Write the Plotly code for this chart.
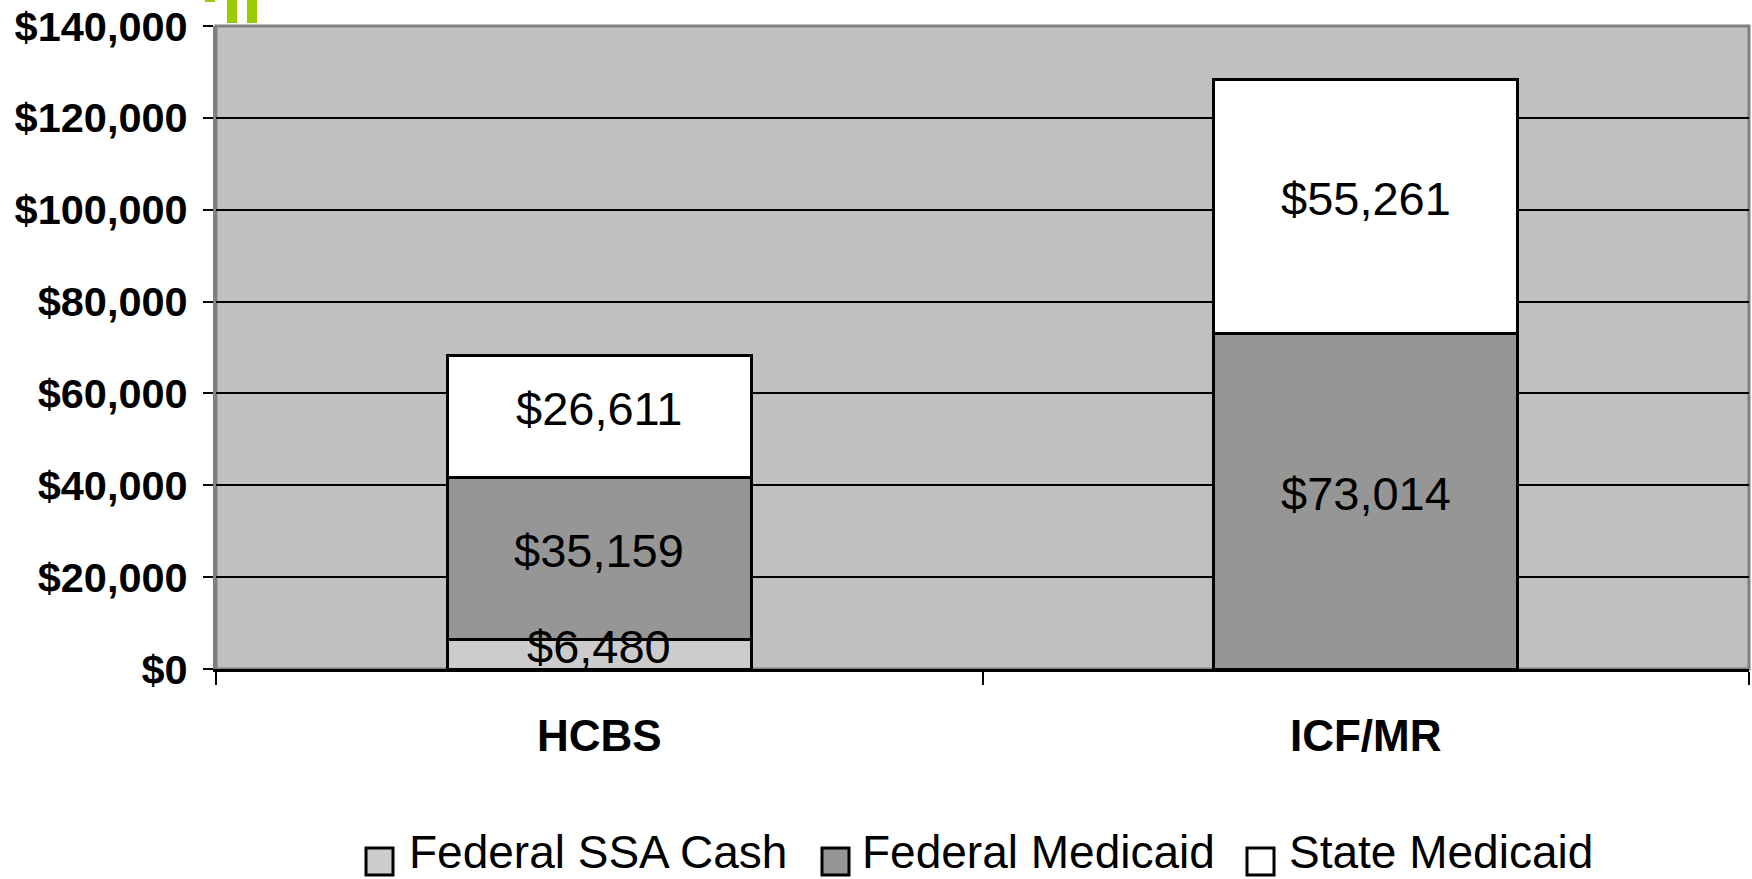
import plotly.graph_objects as go

# Annual cost per person, by funding source
categories = ["HCBS", "ICF/MR"]
federal_ssa_cash = [6480, 0]
federal_medicaid = [35159, 73014]
state_medicaid = [26611, 55261]

series_names = ["Federal SSA Cash", "Federal Medicaid", "State Medicaid"]
series_values = [federal_ssa_cash, federal_medicaid, state_medicaid]
series_colors = ["#CCCCCC", "#969696", "#FFFFFF"]

y_tick_values = [0, 20000, 40000, 60000, 80000, 100000, 120000, 140000]
y_tick_labels = ["$0", "$20,000", "$40,000", "$60,000", "$80,000",
                 "$100,000", "$120,000", "$140,000"]

W, H = 1752, 879
ML, MR, MT, MB = 216, 3, 26, 210
PW, PH = W - ML - MR, H - MT - MB

FONT = "Liberation Sans, Arial, sans-serif"


def px_x(p):
    return (p - ML) / PW


def px_y(p):
    return (H - MB - p) / PH


fig = go.Figure()
shapes = []
annotations = []

# Stacked bars; each segment's value label sits at the middle of its segment
base = [0] * len(categories)
for name, vals, color in zip(series_names, series_values, series_colors):
    fig.add_trace(go.Bar(
        name=name,
        x=categories,
        y=vals,
        marker=dict(color=color, line=dict(color="#000000", width=3)),
        showlegend=False,
    ))
    for i, (cat, v) in enumerate(zip(categories, vals)):
        if v:
            annotations.append(dict(
                x=cat, y=base[i] + v / 2, xref="x", yref="y",
                text=f"${v:,}", showarrow=False, yshift=8,
                xanchor="center", yanchor="middle",
                font=dict(family=FONT, size=47, color="#000000"),
            ))
        base[i] += v

# Plot frame
shapes.append(dict(type="rect", xref="paper", yref="paper", x0=0, x1=1, y0=0, y1=1,
                   line=dict(color="#808080", width=3), layer="below"))

# Legend: swatch boxes and labels
legend_items = [
    (366, 408, series_names[0], series_colors[0]),
    (822, 861, series_names[1], series_colors[1]),
    (1247, 1288, series_names[2], series_colors[2]),
]
for bx, tx, label, color in legend_items:
    shapes.append(dict(type="rect", xref="paper", yref="paper",
                       x0=px_x(bx), x1=px_x(bx + 27), y0=px_y(875), y1=px_y(848),
                       fillcolor=color, line=dict(color="#000000", width=3)))
    annotations.append(dict(xref="paper", yref="paper", x=px_x(tx), y=px_y(852),
                            xanchor="left", yanchor="middle", showarrow=False,
                            borderpad=0,
                            text=label, font=dict(family=FONT, size=46, color="#000000")))

# Green accent marks along the top edge
for x0, x1, y1 in [(205, 215, 2), (227, 237, 23), (247, 257, 23)]:
    shapes.append(dict(type="rect", xref="paper", yref="paper",
                       x0=px_x(x0), x1=px_x(x1), y0=px_y(y1), y1=px_y(-2),
                       fillcolor="#99CC00", line=dict(width=0)))

fig.update_layout(
    barmode="stack",
    bargap=0.603,
    width=W, height=H,
    margin=dict(l=ML, r=MR, t=MT, b=MB, pad=0),
    paper_bgcolor="#FFFFFF",
    plot_bgcolor="#C0C0C0",
    font=dict(family=FONT, color="#000000"),
    shapes=shapes,
    annotations=annotations,
    showlegend=False,
)

fig.update_yaxes(
    range=[0, 140000],
    tickvals=y_tick_values,
    ticktext=y_tick_labels,
    tickfont=dict(family=FONT, size=41.5, color="#000000", weight="bold"),
    ticks="outside", ticklen=10, tickwidth=2, tickcolor="#000000",
    ticklabelstandoff=7,
    showgrid=True, gridcolor="#000000", gridwidth=2,
    showline=True, linecolor="#808080", linewidth=3,
    zeroline=False,
)

fig.update_xaxes(
    tickson="boundaries",
    ticks="outside", ticklen=13, tickwidth=2, tickcolor="#000000",
    tickfont=dict(family=FONT, size=44, color="#000000", weight="bold"),
    ticklabelstandoff=26,
    showline=True, linecolor="#000000", linewidth=3,
    showgrid=False,
)

fig.write_html("out.html")
